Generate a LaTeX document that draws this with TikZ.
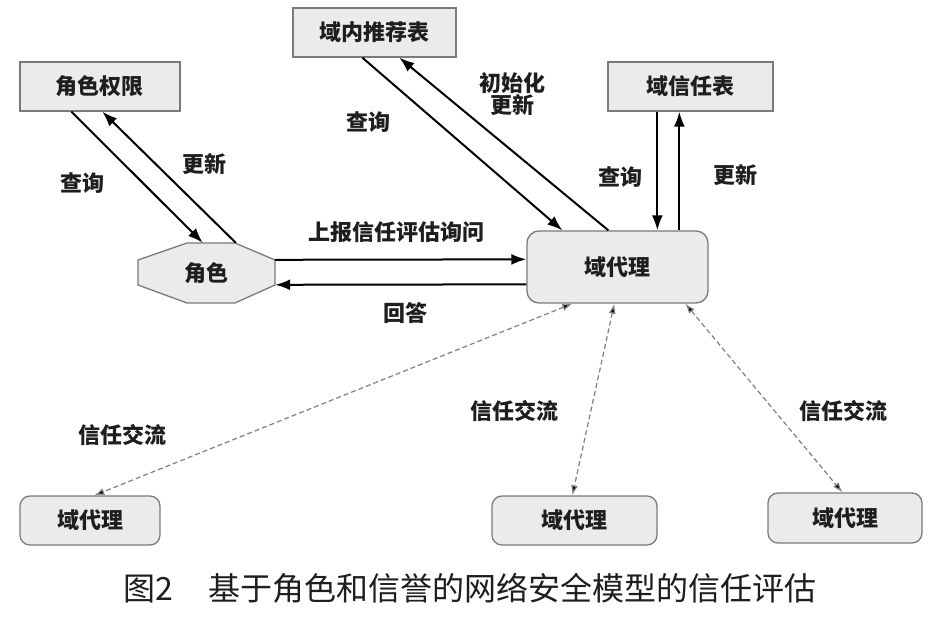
\documentclass[tikz,border=0pt]{standalone}
\usepackage{fontspec}
\setmainfont{Noto Sans CJK SC}
\usetikzlibrary{arrows.meta,calc}
\definecolor{boxfill}{HTML}{EBEBEB}
\definecolor{boxline}{HTML}{7A7A7A}
\definecolor{txt}{HTML}{1E1E1E}
\tikzset{
  tbl/.style={draw=boxline,fill=boxfill,line width=1.3pt,minimum width=#1,minimum height=49pt,inner sep=0pt,font=\fontsize{22}{25}\selectfont\bfseries,text=txt},
  agentbox/.style={draw=boxline,fill=boxfill,line width=1.3pt,rounded corners=10pt,minimum width=#1,inner sep=0pt,font=\fontsize{22}{25}\selectfont\bfseries,text=txt},
  lbl/.style={font=\fontsize{22}{25}\selectfont\bfseries,text=txt,inner sep=0pt,align=center},
  arr/.style={line width=2pt,draw=black,-{Latex[length=15pt,width=11pt]}},
  darr/.style={line width=1.2pt,draw=black!50,dash pattern=on 5pt off 3pt,{Latex[length=10pt,width=7pt,fill=black]}-{Latex[length=10pt,width=7pt,fill=black]}},
}
\begin{document}
\begin{tikzpicture}[x=1pt,y=-1pt]
\useasboundingbox[fill=white] (0,0) rectangle (930,623);
% tables
\node[tbl=160pt] (perm) at (100,86.5) {角色权限};
\node[tbl=163pt] (rec) at (374.5,32.5) {域内推荐表};
\node[tbl=165pt] (trust) at (690.5,86.5) {域信任表};
% role octagon
\draw[boxline,fill=boxfill,line width=1.3pt] (187,243) -- (235,243) -- (275,260) -- (275,285) -- (235,303) -- (187,303) -- (138,285) -- (138,260) -- cycle;
\node[lbl,minimum width=137pt,minimum height=60pt] (role) at (206.5,273) {角色};
% main agent
\node[agentbox=181pt,minimum height=72pt,rounded corners=12pt] (agent) at (617.5,267) {域代理};
% other agents
\node[agentbox=140pt,minimum height=49pt] (b1) at (90,520.5) {域代理};
\node[agentbox=165pt,minimum height=49pt] (b2) at (574.5,520.5) {域代理};
\node[agentbox=154pt,minimum height=50pt] (b3) at (845,518) {域代理};
% solid arrows
\draw[arr] ($(perm.south west)+(52,0)$) -- ($(role.north west)+(65,0)$);
\draw[arr] ($(role.north west)+(98,0)$) -- ($(perm.south west)+(83,0)$);
\draw[arr] ($(rec.south west)+(70,0)$) -- ($(agent.north west)+(36,0)$);
\draw[arr] ($(agent.north west)+(82,0)$) -- ($(rec.south west)+(107,0)$);
\draw[arr] ($(trust.south west)+(50,0)$) -- ($(agent.north west)+(131,0)$);
\draw[arr] ($(agent.north west)+(153,0)$) -- ($(trust.south west)+(72,0)$);
\draw[arr] ($(role.north east)+(0,17)$) -- ($(agent.north west)+(0,29)$);
\draw[arr] ($(agent.north west)+(0,54)$) -- ($(role.north east)+(0,42)$);
% dashed arrows
\draw[darr] ($(agent.south west)+(46,0)$) -- ($(b1.north west)+(75,0)$);
\draw[darr] ($(agent.south west)+(88,0)$) -- ($(b2.north west)+(81,0)$);
\draw[darr] ($(agent.south west)+(159,0)$) -- ($(b3.north west)+(75,0)$);
% labels
\node[lbl] (l1) at (82,183) {查询};
\node[lbl] (l2) at (204,164) {更新};
\node[lbl] (l3) at (368,122) {查询};
\node[lbl] (l4) at (512,94) {初始化\\[-3pt]更新};
\node[lbl] (l5) at (620,177) {查询};
\node[lbl] (l6) at (735,175) {更新};
\node[lbl] (l7) at (396,232) {上报信任评估询问};
\node[lbl] (l8) at (405,313) {回答};
\node[lbl] (l9) at (122,435) {信任交流};
\node[lbl] (l10) at (514,411) {信任交流};
\node[lbl] (l11) at (843,411) {信任交流};
% caption
\node[font=\fontsize{32}{36}\selectfont,text=txt,inner sep=0pt] (cap) at (470,588) {图2\hspace{36pt}基于角色和信誉的网络安全模型的信任评估};
\end{tikzpicture}
\end{document}
